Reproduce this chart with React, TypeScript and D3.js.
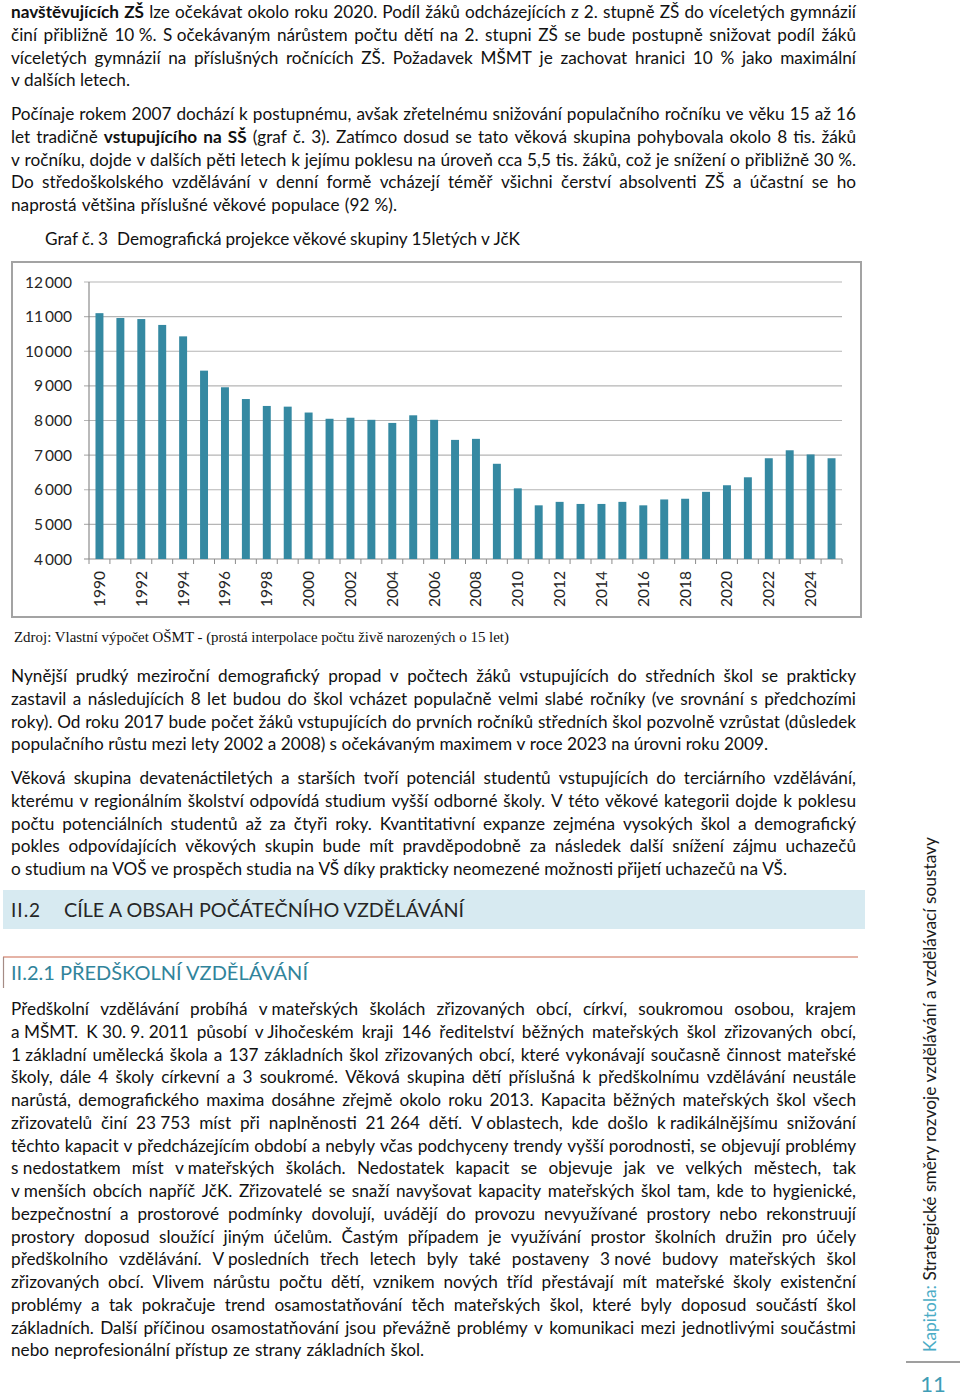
import React, { useMemo } from "react";
import * as d3 from "d3";

// ---------- data ----------
const years: string[] = [
  "1990","1991","1992","1993","1994","1995","1996","1997","1998","1999",
  "2000","2001","2002","2003","2004","2005","2006","2007","2008","2009",
  "2010","2011","2012","2013","2014","2015","2016","2017","2018","2019",
  "2020","2021","2022","2023","2024","2025",
];
const population15: number[] = [
  11100, 10960, 10930, 10760, 10430, 9440, 8960, 8620, 8420, 8400,
  8230, 8050, 8080, 8020, 7930, 8150, 8020, 7440, 7470, 6750,
  6040, 5550, 5650, 5590, 5590, 5650, 5550, 5720, 5740, 5940,
  6130, 6360, 6910, 7140, 7020, 6910,
];
const yTicks: number[] = [4000, 5000, 6000, 7000, 8000, 9000, 10000, 11000, 12000];
const xLabelYears: string[] = [
  "1990","1992","1994","1996","1998","2000","2002","2004","2006",
  "2008","2010","2012","2014","2016","2018","2020","2022","2024",
];

const NB = "\u00a0";
const para1: string[] = [
  "**navštěvujících ZŠ** lze očekávat okolo roku 2020. Podíl žáků odcházejících z 2. stupně ZŠ do víceletých gymnázií",
  `činí přibližně 10${NB}%. S${NB}očekávaným nárůstem počtu dětí na 2. stupni ZŠ se bude postupně snižovat podíl žáků`,
  "víceletých gymnázií na příslušných ročnících ZŠ. Požadavek MŠMT je zachovat hranici 10 % jako maximální",
  "v dalších letech.",
];
const para2: string[] = [
  "Počínaje rokem 2007 dochází k postupnému, avšak zřetelnému snižování populačního ročníku ve věku 15 až 16",
  "let tradičně **vstupujícího na SŠ** (graf č. 3). Zatímco dosud se tato věková skupina pohybovala okolo 8 tis. žáků",
  `v ročníku, dojde v dalších pěti letech k jejímu poklesu na úroveň cca 5,5 tis. žáků, což je snížení o přibližně 30${NB}%.`,
  "Do středoškolského vzdělávání v denní formě vcházejí téměř všichni čerství absolventi ZŠ a účastní se ho",
  "naprostá většina příslušné věkové populace (92 %).",
];
const para3: string[] = [
  "Nynější prudký meziroční demografický propad v počtech žáků vstupujících do středních škol se prakticky",
  "zastavil a následujících 8 let budou do škol vcházet populačně velmi slabé ročníky (ve srovnání s předchozími",
  "roky). Od roku 2017 bude počet žáků vstupujících do prvních ročníků středních škol pozvolně vzrůstat (důsledek",
  "populačního růstu mezi lety 2002 a 2008) s očekávaným maximem v roce 2023 na úrovni roku 2009.",
];
const para4: string[] = [
  "Věková skupina devatenáctiletých a starších tvoří potenciál studentů vstupujících do terciárního vzdělávání,",
  "kterému v regionálním školství odpovídá studium vyšší odborné školy. V této věkové kategorii dojde k poklesu",
  "počtu potenciálních studentů až za čtyři roky. Kvantitativní expanze zejména vysokých škol a demografický",
  "pokles odpovídajících věkových skupin bude mít pravděpodobně za následek další snížení zájmu uchazečů",
  "o studium na VOŠ ve prospěch studia na VŠ díky prakticky neomezené možnosti přijetí uchazečů na VŠ.",
];
const para5: string[] = [
  `Předškolní vzdělávání probíhá v${NB}mateřských školách zřizovaných obcí, církví, soukromou osobou, krajem`,
  `a${NB}MŠMT. K${NB}30.${NB}9.${NB}2011 působí v${NB}Jihočeském kraji 146 ředitelství běžných mateřských škol zřizovaných obcí,`,
  `1${NB}základní umělecká škola a 137 základních škol zřizovaných obcí, které vykonávají současně činnost mateřské`,
  "školy, dále 4 školy církevní a 3 soukromé. Věková skupina dětí příslušná k předškolnímu vzdělávání neustále",
  "narůstá, demografického maxima dosáhne zřejmě okolo roku 2013. Kapacita běžných mateřských škol všech",
  `zřizovatelů činí 23${NB}753 míst při naplněnosti 21${NB}264 dětí. V${NB}oblastech, kde došlo k${NB}radikálnějšímu snižování`,
  "těchto kapacit v předcházejícím období a nebyly včas podchyceny trendy vyšší porodnosti, se objevují problémy",
  `s${NB}nedostatkem míst v${NB}mateřských školách. Nedostatek kapacit se objevuje jak ve velkých městech, tak`,
  `v${NB}menších obcích napříč JčK. Zřizovatelé se snaží navyšovat kapacity mateřských škol tam, kde to hygienické,`,
  "bezpečnostní a prostorové podmínky dovolují, uvádějí do provozu nevyužívané prostory nebo rekonstruují",
  "prostory doposud sloužící jiným účelům. Častým případem je využívání prostor školních družin pro účely",
  `předškolního vzdělávání. V${NB}posledních třech letech byly také postaveny 3${NB}nové budovy mateřských škol`,
  "zřizovaných obcí. Vlivem nárůstu počtu dětí, vznikem nových tříd přestávají mít mateřské školy existenční",
  "problémy a tak pokračuje trend osamostatňování těch mateřských škol, které byly doposud součástí škol",
  "základních. Další příčinou osamostatňování jsou převážně problémy v komunikaci mezi jednotlivými součástmi",
  "nebo neprofesionální přístup ze strany základních škol.",
];

const chartTitleA = "Graf č. 3";
const chartTitleB = "Demografická projekce věkové skupiny 15letých v JčK";
const sourceText = "Zdroj: Vlastní výpočet OŠMT - (prostá interpolace počtu živě narozených o 15 let)";
const heading2 = "CÍLE A OBSAH POČÁTEČNÍHO VZDĚLÁVÁNÍ";
const heading21 = "II.2.1 PŘEDŠKOLNÍ VZDĚLÁVÁNÍ";
const sideTitle = "Strategické směry rozvoje vzdělávání a vzdělávací soustavy";

// ---------- layout helpers ----------
const FONT = "Lato, 'Open Sans', sans-serif";
const BODY_SIZE = 17.2;
const LEFT = 11;
const RIGHT = 856;
const PITCH = 22.75;

type Word = { t: string; b: boolean; x: number; y: number; w: number; scale: number };

let ctx: CanvasRenderingContext2D | null = null;
function measure(t: string, bold: boolean, size: number) {
  if (!ctx) ctx = document.createElement("canvas").getContext("2d");
  if (!ctx) return t.length * size * 0.5;
  ctx.font = `${bold ? "bold " : ""}${size}px Lato`;
  return ctx.measureText(t).width;
}

function layoutLine(line: string, y: number, x0: number, x1: number): Word[] {
  const parts = line.split("**");
  const toks: { t: string; b: boolean }[] = [];
  parts.forEach((p, i) => {
    p.split(" ").filter((s) => s.length > 0).forEach((t) => toks.push({ t, b: i % 2 === 1 }));
  });
  const widths = toks.map((tk) => measure(tk.t, tk.b, BODY_SIZE));
  const sum = widths.reduce((a, b) => a + b, 0);
  const n = toks.length;
  const avail = x1 - x0;
  const minGap = 3.2;
  let scale = 1;
  if (n > 1 && sum + minGap * (n - 1) > avail) scale = (avail - minGap * (n - 1)) / sum;
  const gap = n > 1 ? (avail - sum * scale) / (n - 1) : 0;
  const out: Word[] = [];
  let x = x0;
  toks.forEach((tk, i) => {
    out.push({ t: tk.t, b: tk.b, x, y, w: widths[i] * scale, scale });
    x += widths[i] * scale + gap;
  });
  return out;
}

function layoutPara(lines: string[], y0: number, lastEnd: number): Word[] {
  const res: Word[] = [];
  lines.forEach((l, i) => {
    const last = i === lines.length - 1;
    const end = last ? lastEnd : RIGHT;
    res.push(...layoutLine(l, y0 + i * PITCH, LEFT, end));
  });
  return res;
}

// ---------- chart ----------
const plot = { x0: 89, x1: 842, y0: 282, y1: 559 };

function Chart() {
  const x = d3.scaleBand<string>().domain(years).range([plot.x0, plot.x1]).paddingInner(0.62).paddingOuter(0.31);
  const y = d3.scaleLinear().domain([4000, 12000]).range([plot.y1, plot.y0]);
  const step = x.step();
  const fmt = (v: number) => d3.format(",")(v).replace(",", "\u2009");
  return (
    <g>
      <rect x={12} y={262} width={849} height={355} fill="#fff" stroke="#a3a3a3" strokeWidth={2} />
      {yTicks.map((t) => (
        <g key={t}>
          <line x1={plot.x0 - 5} x2={plot.x1} y1={y(t)} y2={y(t)} stroke={t === 4000 ? "#8c8c8c" : "#b5b5b5"} strokeWidth={1.2} />
          <text x={72} y={y(t) + 5.5} textAnchor="end" fontFamily={FONT} fontSize={15.5} fill="#262626">{fmt(t)}</text>
        </g>
      ))}
      <line x1={plot.x0} x2={plot.x0} y1={plot.y0} y2={plot.y1} stroke="#8c8c8c" strokeWidth={1.2} />
      {d3.range(years.length + 1).map((i) => (
        <line key={i} x1={plot.x0 + i * step} x2={plot.x0 + i * step} y1={plot.y1} y2={plot.y1 + 5} stroke="#8c8c8c" strokeWidth={1} />
      ))}
      {years.map((yr, i) => (
        <rect key={yr} x={x(yr)} y={y(population15[i])} width={x.bandwidth()} height={plot.y1 - y(population15[i])} fill="#3589a2" />
      ))}
      {xLabelYears.map((yr) => {
        const cx = (x(yr) as number) + x.bandwidth() / 2;
        return (
          <text key={yr} transform={`translate(${cx + 5.5},571) rotate(-90)`} textAnchor="end" fontFamily={FONT} fontSize={15.5} fill="#262626">{yr}</text>
        );
      })}
    </g>
  );
}

function Words({ words }: { words: Word[] }) {
  return (
    <g fontFamily={FONT} fontSize={BODY_SIZE} fill="#111">
      {words.map((w, i) => (
        <text key={i} x={w.x} y={w.y} fontWeight={w.b ? "bold" : "normal"}
          {...(w.scale < 1 ? { textLength: w.w, lengthAdjust: "spacingAndGlyphs" } : {})}>
          {w.t}
        </text>
      ))}
    </g>
  );
}

export default function App() {
  const words = useMemo(() => {
    const all: Word[] = [];
    all.push(...layoutPara(para1, 18, 130));
    all.push(...layoutPara(para2, 120, 397));
    all.push(...layoutPara(para3, 682, 768));
    all.push(...layoutPara(para4, 784, 787));
    all.push(...layoutPara(para5, 1015, 424));
    all.push(...layoutLine(chartTitleA, 245, 45, 108));
    all.push(...layoutLine(chartTitleB, 245, 117, 520));
    return all;
  }, []);

  return (
    <svg width={960} height={1397} style={{ position: "absolute", left: 0, top: 0, background: "#fff" }}>
      <rect width={960} height={1397} fill="#fff" />
      <Words words={words} />
      <Chart />
      <text x={14} y={642} fontFamily="'Liberation Serif', 'Times New Roman', serif" fontSize={14.5} fill="#111" textLength={495} lengthAdjust="spacingAndGlyphs">{sourceText}</text>

      {/* heading II.2 */}
      <rect x={3} y={890} width={862} height={39} fill="#d7eaf1" />
      <text x={11} y={917} fontFamily={FONT} fontSize={19} fill="#262626" letterSpacing={1}>II.2</text>
      <text x={64} y={917} fontFamily={FONT} fontSize={19} fill="#262626" textLength={400} lengthAdjust="spacingAndGlyphs">{heading2}</text>

      {/* heading II.2.1 */}
      <line x1={3} x2={858} y1={957} y2={957} stroke="#dc9a88" strokeWidth={1.5} />
      <line x1={3.5} x2={3.5} y1={957} y2={988} stroke="#a58b85" strokeWidth={1.2} />
      <text x={11} y={980} fontFamily={FONT} fontSize={19} fill="#31849b" textLength={297} lengthAdjust="spacingAndGlyphs">{heading21}</text>

      {/* side bar */}
      <text transform="translate(936,1352) rotate(-90)" fontFamily={FONT} fontSize={17} fill="#1a1a1a" textLength={515} lengthAdjust="spacingAndGlyphs">
        <tspan fill="#4bacc6">Kapitola:</tspan> {sideTitle}
      </text>
      <line x1={906} x2={960} y1={1362} y2={1362} stroke="#7f7f7f" strokeWidth={1.5} />
      <text x={933} y={1392} textAnchor="middle" fontFamily={FONT} fontSize={22} fill="#3f9db6">11</text>
    </svg>
  );
}
